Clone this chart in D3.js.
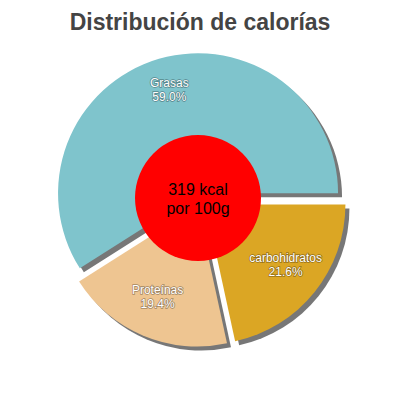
<!DOCTYPE html>
<html><head><meta charset="utf-8">
<script src="https://cdn.jsdelivr.net/npm/d3@7"></script>
<style>body{margin:0;background:#fff}</style></head>
<body><svg id="c" width="400" height="400"></svg>
<script>
const labels = ["carbohidratos","Proteínas","Grasas"];
const values = [21.6,19.4,59.0];
const colors = ["#dba624","#eec591","#7fc4cc"];
const title = "Distribución de calorías";
const centerText = ["319 kcal","por 100g"];

const svg = d3.select("#c");
svg.append("text").attr("x",200).attr("y",30).attr("text-anchor","middle")
  .attr("font-family","Liberation Sans, Arial").attr("font-weight","bold")
  .attr("font-size",23).attr("fill","#444").text(title);

const cx=200, cy=200, r=140, off=7;
const pie = d3.pie().sort(null).startAngle(Math.PI/2).endAngle(Math.PI/2+2*Math.PI);
const arcs = pie(values);
const arc = d3.arc().innerRadius(0).outerRadius(r);
const labArc = d3.arc().innerRadius(110).outerRadius(110);
const g = svg.append("g").attr("transform",`translate(${cx},${cy})`);
arcs.forEach((a,i)=>{
  const m=(a.startAngle+a.endAngle)/2;
  const dx=Math.sin(m)*off, dy=-Math.cos(m)*off;
  g.append("path").attr("d",arc(a)).attr("fill","#555").attr("opacity",0.8)
    .attr("transform",`translate(${dx+4},${dy+4})`);
  g.append("path").attr("d",arc(a)).attr("fill",colors[i])
    .attr("transform",`translate(${dx},${dy})`);
});
arcs.forEach((a,i)=>{
  const [x,y]=labArc.centroid(a);
  const t=g.append("text").attr("text-anchor","middle").attr("font-family","Liberation Sans, Arial")
    .attr("font-size",12).attr("fill","#fff")
    .attr("style","paint-order:stroke;stroke:rgba(0,0,0,0.35);stroke-width:1.5px");
  t.append("tspan").attr("x",x).attr("y",y-7).text(labels[i]);
  t.append("tspan").attr("x",x).attr("y",y+7).text(values[i].toFixed(1)+"%");
});
g.append("circle").attr("cx",-2).attr("cy",-2).attr("r",63).attr("fill","#ff0000");
const ct=g.append("text").attr("text-anchor","middle").attr("font-family","Liberation Sans, Arial")
  .attr("font-size",16).attr("fill","#000");
ct.append("tspan").attr("x",-2).attr("y",-5).text(centerText[0]);
ct.append("tspan").attr("x",-2).attr("y",14).text(centerText[1]);
</script></body></html>
